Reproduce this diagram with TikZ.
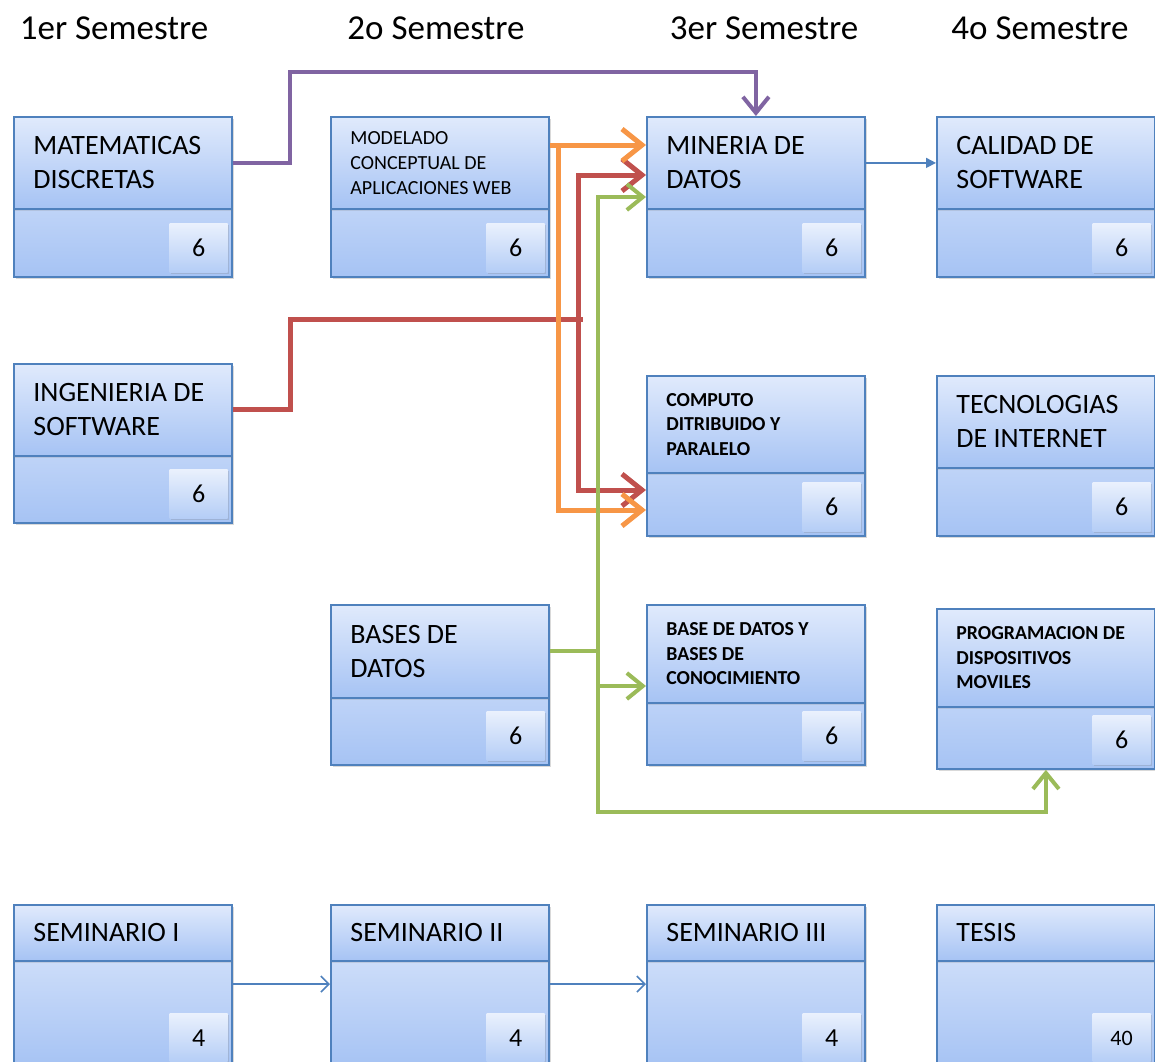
\documentclass[tikz,border=0pt]{standalone}
\usepackage{fontspec}
\setmainfont{Carlito}
\usetikzlibrary{arrows.meta,shadows}
\definecolor{azulborde}{HTML}{4F81BD}
\definecolor{azulclaro}{HTML}{E0EAFC}
\definecolor{azulmedio}{HTML}{A6C3F4}
\definecolor{azulnum}{HTML}{B4CDF6}
\definecolor{morado}{HTML}{8064A2}
\definecolor{rojo}{HTML}{C0504D}
\definecolor{naranja}{HTML}{F79646}
\definecolor{verde}{HTML}{9BBB59}
\newcommand\encabezado{\fontsize{17.5}{21}\selectfont}
\newcommand\grande{\fontsize{14}{17}\selectfont}
\newcommand\chica{\fontsize{10}{12.5}\selectfont}
\newcommand\negrita{\fontsize{9.9}{12.2}\selectfont\bfseries}
\newcommand\numero{\fontsize{13}{15}\selectfont}

\begin{document}
\begin{tikzpicture}[x=0.5pt,y=-0.5pt,
  caja/.style={anchor=north west,draw=azulborde,line width=0.9pt,top color=azulclaro,bottom color=azulmedio,minimum width=109pt,inner sep=0pt,drop shadow={shadow xshift=1.2pt,shadow yshift=-1.2pt,opacity=0.3}},
  cabeza/.style={anchor=north west,draw=azulborde,line width=0.9pt,top color=azulclaro,bottom color=azulmedio,minimum width=109pt,inner sep=0pt,drop shadow={shadow xshift=0pt,shadow yshift=-1pt,opacity=0.2}},
  titulo/.style={anchor=west,align=left,inner sep=0pt},
  num/.style={anchor=south east,top color=azulclaro!70!white,bottom color=azulnum,minimum width=29pt,minimum height=24.5pt,inner sep=0pt,font=\numero,drop shadow={shadow xshift=0.8pt,shadow yshift=-0.8pt,opacity=0.25}},
  gruesa/.style={line width=2.5pt},
  media/.style={line width=2pt},
  fina/.style={line width=0.8pt,draw=azulborde},
  punta/.style={-{Straight Barb[length=10pt,width=16pt]}},
  puntachica/.style={-{Straight Barb[length=8pt,width=13pt]}}]
\useasboundingbox (0,0) rectangle (1155,1061);
\foreach \x/\t [count=\i] in {114/1er Semestre,436/2o Semestre,764/3er Semestre,1040/4o Semestre}{
  \node[font=\encabezado] (col-\i) at (\x,28) {\t};
};
\foreach \x/\y/\H/\hh/\nombre/\texto/\n/\letra in {
  13/116/160/92/matem/{MATEMATICAS\\DISCRETAS}/6/\grande,
  330/116/160/92/modelado/{MODELADO\\CONCEPTUAL DE\\APLICACIONES WEB}/6/\chica,
  646/116/160/92/mineria/{MINERIA DE\\DATOS}/6/\grande,
  936/116/160/92/calidad/{CALIDAD DE\\SOFTWARE}/6/\grande,
  13/363/159/92/ing/{INGENIERIA DE\\SOFTWARE}/6/\grande,
  646/375/160/97/computo/{COMPUTO\\DITRIBUIDO Y\\PARALELO}/6/\negrita,
  936/375/160/92/tecno/{TECNOLOGIAS\\DE INTERNET}/6/\grande,
  330/604/160/93/bases/{BASES DE\\DATOS}/6/\grande,
  646/604/160/98/bdbc/{BASE DE DATOS Y\\BASES DE\\CONOCIMIENTO}/6/\negrita,
  936/608/160/98/prog/{PROGRAMACION DE\\DISPOSITIVOS\\MOVILES}/6/\negrita,
  13/904/162/56/sem1/{SEMINARIO I}/4/\grande,
  330/904/162/56/sem2/{SEMINARIO II}/4/\grande,
  646/904/162/56/sem3/{SEMINARIO III}/4/\grande,
  936/904/162/56/tesis/{TESIS}/{\fontsize{11}{13}\selectfont 40}/\grande}{
  \node[caja,minimum height=\H*0.5pt] (\nombre) at (\x,\y) {};
  \node[cabeza,minimum height=\hh*0.5pt] (\nombre-h) at (\x,\y) {};
  \node[titulo,font=\letra] (\nombre-t) at ([xshift=10pt]\nombre-h.west) {\texto};
  \node[num] (\nombre-n) at (\x+215,\y+\H-3) {\n};
};
\draw[morado,media,puntachica] (matem-h.east) -| (290,72) -| (mineria.north);
\draw[rojo,gruesa] (ing-h.east) -| (290,319) -- (583,319);
\draw[rojo,gruesa,punta] (578,319) |- (mineria.west |- 0,175);
\draw[rojo,gruesa,punta] (578,319) |- (computo.west |- 0,490);
\draw[naranja,gruesa,punta] (modelado-h.east |- 0,145) -- (mineria.west |- 0,145);
\draw[naranja,gruesa,punta] (558,145) |- (computo.west |- 0,510);
\draw[verde,media] (bases-h.east) -- (bases-h.east -| 598,0);
\draw[verde,media,puntachica] (598,812) |- (mineria.west |- 0,197);
\draw[verde,media,puntachica] (598,686) -- (bdbc.west |- 0,686);
\draw[verde,media,puntachica] (598,650) -- (598,812) -| (prog.south);
\draw[fina,-{Triangle[length=5pt,width=5pt]}] (mineria-h.east) -- (calidad-h.west);
\draw[fina,-{Straight Barb[length=4pt,width=8pt]}] (sem1.east |- 0,984) -- (sem2.west |- 0,984);
\draw[fina,-{Straight Barb[length=4pt,width=8pt]}] (sem2.east |- 0,984) -- (sem3.west |- 0,984);
\end{tikzpicture}
\end{document}
